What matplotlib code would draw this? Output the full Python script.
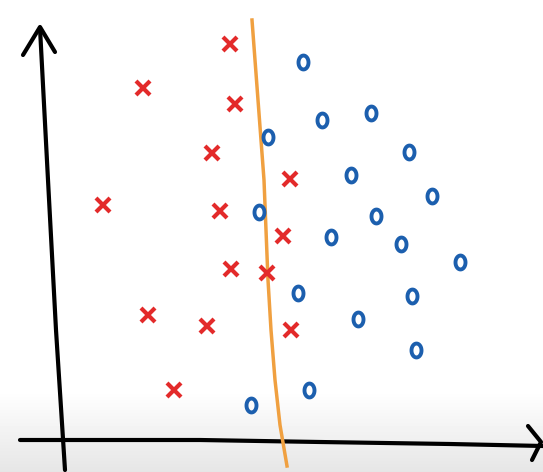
import numpy as np
import matplotlib.pyplot as plt
from matplotlib.path import Path

# pontos vermelhos (x) e azuis (o), em pixels da imagem
x_verm = [230, 143, 235, 212, 290, 103, 220, 283, 231, 267, 148, 207, 291, 174]
y_verm = [44, 88, 104, 153, 179, 205, 211, 236, 269, 273, 315, 326, 330, 390]

x_azul = [303, 322, 371, 268, 409, 351, 432, 259, 376, 331, 401, 460, 298, 412, 358, 416, 251, 309]
y_azul = [62, 120, 113, 137, 152, 175, 196, 212, 216, 237, 244, 262, 293, 296, 319, 350, 405, 390]

# linha de separacao (laranja)
x_linha = [252, 255, 258, 261, 264, 266, 268, 271, 275, 280, 287]
y_linha = [20, 60, 100, 140, 180, 230, 280, 330, 380, 425, 466]

W, H = 543, 472
fig = plt.figure(figsize=(W / 100, H / 100), dpi=100)
ax = fig.add_axes([0, 0, 1, 1])
ax.set_xlim(0, W)
ax.set_ylim(H, 0)
ax.axis('off')

# sombra cinza na parte de baixo
grad = np.ones((H, 1))
t = np.clip((np.arange(H) - 390) / 82.0, 0, 1)
grad[:, 0] = 1 - 0.1 * t
ax.imshow(grad, extent=[0, W, H, 0], cmap='gray', vmin=0, vmax=1, aspect='auto', zorder=0)

# eixos desenhados a mao
ax.plot([40, 48, 56, 65], [28, 180, 330, 470], color='black', lw=3, solid_capstyle='round')
ax.plot([23, 40, 55], [55, 27, 52], color='black', lw=3, solid_capstyle='round')
ax.plot([20, 200, 320, 450, 543], [440, 440, 442, 444, 446], color='black', lw=3, solid_capstyle='round')
ax.plot([528, 541, 532], [426, 442, 460], color='black', lw=3, solid_capstyle='round')

ax.plot(x_linha, y_linha, color='#f0a040', lw=2.5, zorder=2)

# marcador "o" oval (mais alto que largo)
ang = np.linspace(0, 2 * np.pi, 40)
oval = Path(np.column_stack([0.72 * np.cos(ang), np.sin(ang)]), closed=True)

ax.plot(x_verm, y_verm, 'x', color='#e32a2a', ms=10, mew=3, zorder=3)
ax.plot(x_azul, y_azul, linestyle='none', marker=oval, color='#1c5fae', mfc='none',
        ms=10, mew=2.8, zorder=3)

fig.savefig('out.png', dpi=100)
